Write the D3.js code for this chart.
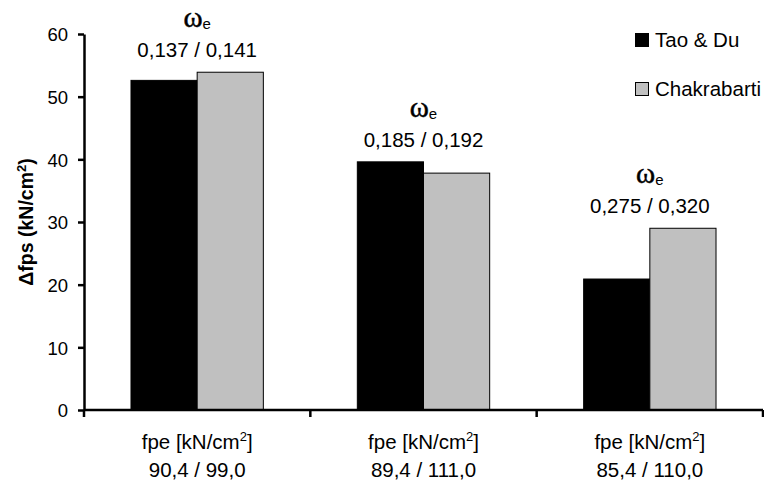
<!DOCTYPE html>
<html>
<head>
<meta charset="utf-8">
<script src="https://cdn.jsdelivr.net/npm/d3@7"></script>
<style>
  html, body { margin: 0; padding: 0; background: #fff; }
  svg { display: block; }
  text { font-family: "Liberation Sans", Arial, sans-serif; fill: #000; }
</style>
</head>
<body>
<svg id="chart" width="764" height="481"></svg>
<script>
// Prestressing stress increase, two methods, three beams
const categories = ["90,4 / 99,0", "89,4 / 111,0", "85,4 / 110,0"];   // fpe values per beam
const omegaLabels = ["0,137 / 0,141", "0,185 / 0,192", "0,275 / 0,320"];
const seriesNames = ["Tao & Du", "Chakrabarti"];
const taoDu = [52.6, 39.6, 20.9];
const chakrabarti = [53.9, 37.8, 29.0];
const yTicks = [0, 10, 20, 30, 40, 50, 60];
const seriesColors = ["#000000", "#c0c0c0"];

const seriesValues = [taoDu, chakrabarti];
const rows = categories.map((c, i) => ({
  cat: c,
  omega: omegaLabels[i],
  values: seriesNames.map((s, k) => ({ series: s, value: seriesValues[k][i] }))
}));

const svg = d3.select("#chart");
const margin = { left: 84, right: 1, top: 34, bottom: 71 };
const W = 764, H = 481;

const x0 = d3.scaleBand().domain(categories)
  .range([margin.left, W - margin.right]).paddingInner(0).paddingOuter(0);
const x1 = d3.scaleBand().domain(seriesNames)
  .range([0, x0.bandwidth()]).paddingInner(0).paddingOuter(0.71);
const y = d3.scaleLinear().domain([0, 60]).range([H - margin.bottom, margin.top]);
const color = d3.scaleOrdinal().domain(seriesNames).range(seriesColors);

// Bars
const g = svg.append("g");
const groups = g.selectAll("g.grp").data(rows).join("g")
  .attr("class", "grp")
  .attr("transform", d => `translate(${x0(d.cat)},0)`);

groups.selectAll("rect").data(d => d.values).join("rect")
  .attr("x", d => x1(d.series))
  .attr("y", d => y(d.value))
  .attr("width", x1.bandwidth())
  .attr("height", d => y(0) - y(d.value))
  .attr("fill", d => color(d.series))
  .attr("stroke", "#000")
  .attr("stroke-width", 1);

// ω_e labels above each group
groups.each(function (d) {
  const top = y(d3.max(d.values, v => v.value));
  const cx = x0.bandwidth() / 2;
  const sel = d3.select(this);
  sel.append("text")
    .attr("x", cx).attr("y", top - 15)
    .attr("text-anchor", "middle")
    .style("font-size", "20.5px")
    .text(d.omega);
  const om = sel.append("text")
    .attr("x", cx).attr("y", top - 45)
    .attr("text-anchor", "middle");
  om.append("tspan")
    .style("font-family", "'Liberation Serif', 'Times New Roman', serif")
    .style("font-size", "29px")
    .style("stroke", "#000")
    .style("stroke-width", 0.5)
    .text("ω");
  om.append("tspan")
    .attr("dy", 2)
    .style("font-size", "15px")
    .text("e");
});

// Y axis
const yAxis = d3.axisLeft(y).tickValues(yTicks).tickSize(6).tickSizeOuter(0).tickPadding(10);
const ya = svg.append("g")
  .attr("transform", `translate(${margin.left},0)`)
  .call(yAxis);
ya.select(".domain").attr("stroke", "#000").attr("stroke-width", 2.5);
ya.selectAll(".tick line").attr("stroke", "#000").attr("stroke-width", 2.5);
ya.selectAll(".tick text")
  .style("font-size", "18.5px")
  .style("font-family", "'Liberation Sans', Arial, sans-serif")
  .attr("dy", "0.36em");

// X axis: baseline plus ticks on the category boundaries
const xa = svg.append("g");
const x0Range = x0.range();
xa.append("line")
  .attr("x1", x0Range[0]).attr("x2", x0Range[1])
  .attr("y1", y(0)).attr("y2", y(0))
  .attr("stroke", "#000").attr("stroke-width", 2.5);
const bounds = categories.map(c => x0(c)).concat([x0(categories[categories.length - 1]) + x0.bandwidth()]);
xa.selectAll("line.tk").data(bounds).join("line")
  .attr("class", "tk")
  .attr("x1", d => d).attr("x2", d => d)
  .attr("y1", y(0)).attr("y2", y(0) + 7)
  .attr("stroke", "#000").attr("stroke-width", 2.5);

// Category labels (two lines)
const cl = xa.selectAll("g.cl").data(categories).join("g")
  .attr("class", "cl")
  .attr("transform", c => `translate(${x0(c) + x0.bandwidth() / 2},0)`);
const l1 = cl.append("text")
  .attr("y", y(0) + 39)
  .attr("text-anchor", "middle")
  .style("font-size", "20.5px");
l1.append("tspan").text("fpe [kN/cm");
l1.append("tspan").attr("dy", -8).style("font-size", "13px").text("2");
l1.append("tspan").attr("dy", 8).text("]");
cl.append("text")
  .attr("y", y(0) + 67)
  .attr("text-anchor", "middle")
  .style("font-size", "20.5px")
  .text(c => c);

// Y axis title
const yt = svg.append("text")
  .attr("transform", `translate(33,${(y(0) + y(60)) / 2}) rotate(-90)`)
  .attr("text-anchor", "middle")
  .style("font-size", "19.5px")
  .style("font-weight", "bold");
yt.append("tspan").text("Δfps (kN/cm");
yt.append("tspan").attr("dy", -7).style("font-size", "13px").text("2");
yt.append("tspan").attr("dy", 7).text(")");

// Legend
const lg = svg.append("g").attr("transform", "translate(635,0)");
const lgRows = lg.selectAll("g").data(seriesNames).join("g")
  .attr("transform", (d, i) => `translate(0,${33 + i * 49})`);
lgRows.append("rect")
  .attr("x", 0.5).attr("y", 0.5)
  .attr("width", 13).attr("height", 13)
  .attr("fill", d => color(d))
  .attr("stroke", "#000").attr("stroke-width", 1);
lgRows.append("text")
  .attr("x", 20).attr("y", 14)
  .style("font-size", "20.5px")
  .text(d => d);
</script>
</body>
</html>
